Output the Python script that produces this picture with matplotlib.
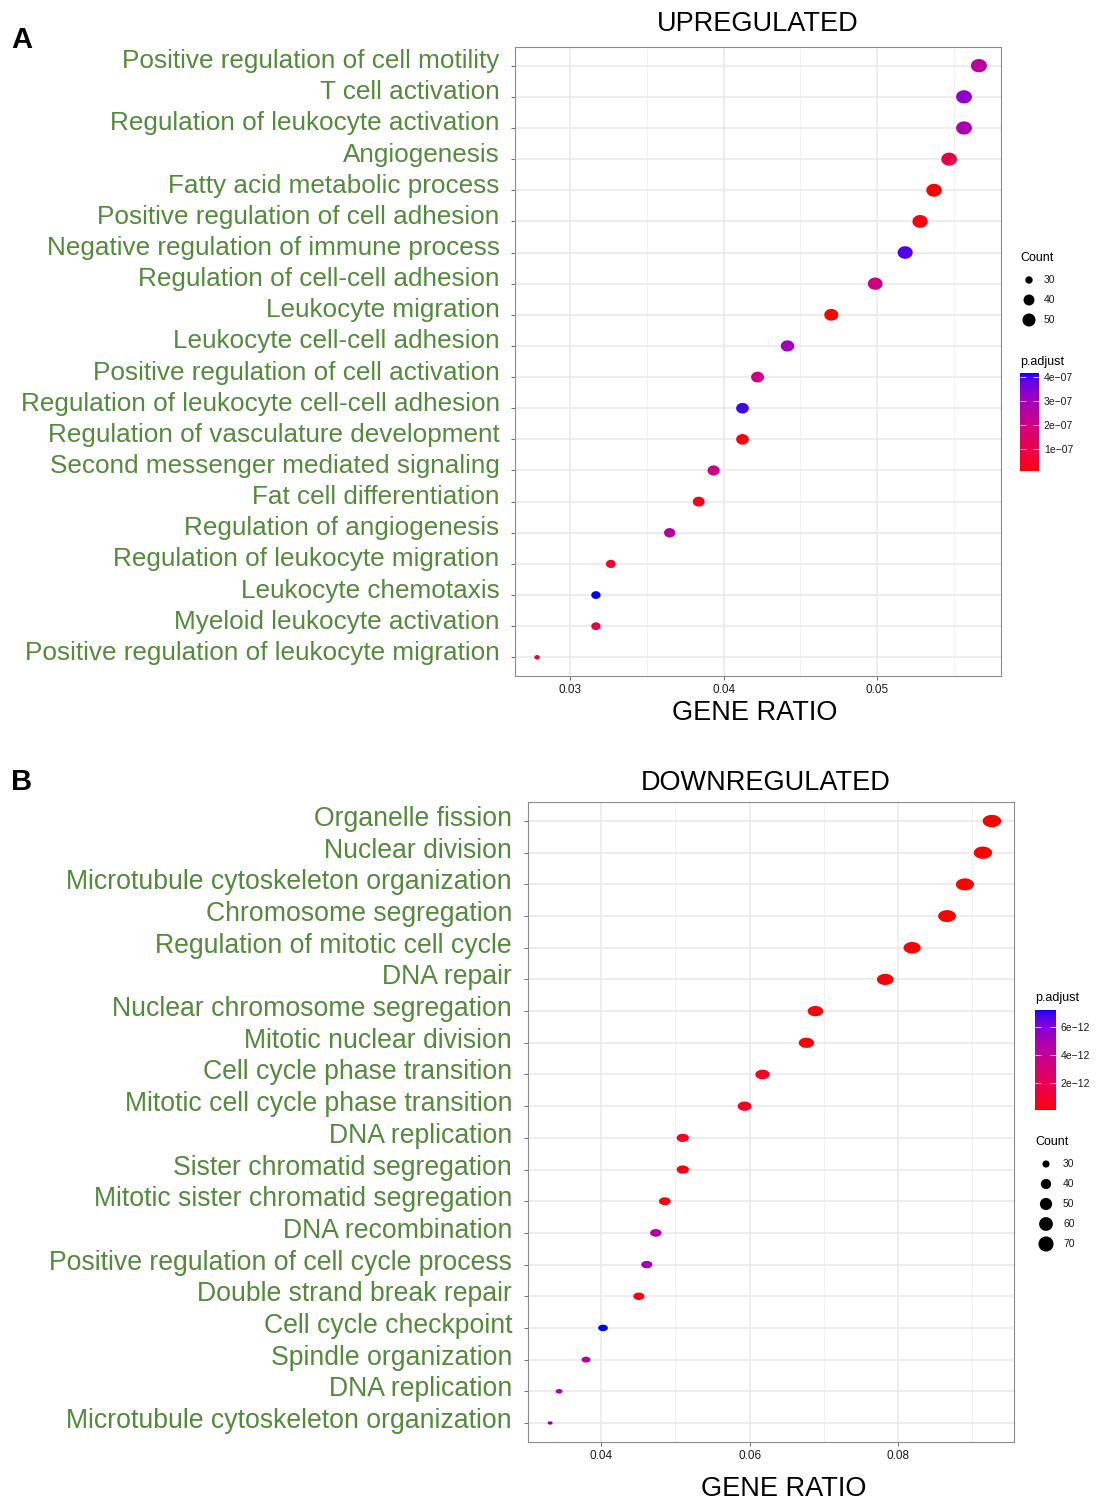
import numpy as np
import matplotlib
matplotlib.use("Agg")
import matplotlib.pyplot as plt
from matplotlib.path import Path
from matplotlib.colors import ListedColormap, Normalize
from matplotlib.cm import ScalarMappable
from matplotlib.transforms import ScaledTranslation
from matplotlib.ticker import MultipleLocator, FormatStrFormatter, AutoMinorLocator

plt.rcParams['font.family'] = ['Liberation Sans', 'DejaVu Sans']

# ---------------- data ----------------
up_terms = ["Positive regulation of cell motility", "T cell activation",
            "Regulation of leukocyte activation", "Angiogenesis",
            "Fatty acid metabolic process", "Positive regulation of cell adhesion",
            "Negative regulation of immune process", "Regulation of cell-cell adhesion",
            "Leukocyte migration", "Leukocyte cell-cell adhesion",
            "Positive regulation of cell activation",
            "Regulation of leukocyte cell-cell adhesion",
            "Regulation of vasculature development",
            "Second messenger mediated signaling", "Fat cell differentiation",
            "Regulation of angiogenesis", "Regulation of leukocyte migration",
            "Leukocyte chemotaxis", "Myeloid leukocyte activation",
            "Positive regulation of leukocyte migration"]
up_ratio = [0.05662, 0.05565, 0.05565, 0.05468, 0.05370, 0.05279, 0.05182, 0.04987,
            0.04701, 0.04416, 0.04221, 0.04123, 0.04123, 0.03935, 0.03838, 0.03649,
            0.03266, 0.03169, 0.03169, 0.02786]
up_count = [58, 57, 57, 56, 55, 54, 53, 51, 48, 45, 43, 42, 42, 40, 39, 37, 33, 32, 32, 28]
up_padj = [2.5e-7, 3.3e-7, 2.8e-7, 1.0e-7, 0.1e-7, 0.2e-7, 3.9e-7, 2.0e-7, 0.1e-7, 3.0e-7,
           2.0e-7, 4.0e-7, 0.2e-7, 2.0e-7, 0.3e-7, 2.6e-7, 0.5e-7, 4.15e-7, 0.9e-7, 0.6e-7]
up_padj_ticks = [1e-7, 2e-7, 3e-7, 4e-7]
up_padj_ticklabels = ["1e\u221207", "2e\u221207", "3e\u221207", "4e\u221207"]
up_count_legend = [30, 40, 50]

down_terms = ["Organelle fission", "Nuclear division",
              "Microtubule cytoskeleton organization", "Chromosome segregation",
              "Regulation of mitotic cell cycle", "DNA repair",
              "Nuclear chromosome segregation", "Mitotic nuclear division",
              "Cell cycle phase transition", "Mitotic cell cycle phase transition",
              "DNA replication", "Sister chromatid segregation",
              "Mitotic sister chromatid segregation", "DNA recombination",
              "Positive regulation of cell cycle process", "Double strand break repair",
              "Cell cycle checkpoint", "Spindle organization", "DNA replication",
              "Microtubule cytoskeleton organization"]
down_ratio = [0.09262, 0.09141, 0.08899, 0.08658, 0.08188, 0.07826, 0.06886, 0.06765,
              0.06174, 0.05933, 0.05101, 0.05101, 0.04859, 0.04738, 0.04617, 0.04510,
              0.04027, 0.03799, 0.03436, 0.03315]
down_count = [75, 74, 72, 70, 66, 63, 56, 55, 50, 48, 41, 41, 39, 38, 37, 37, 33, 31, 28, 27]
down_padj = [1e-14, 2e-14, 1e-14, 3e-14, 5e-14, 4e-14, 1.5e-13, 1e-13, 6e-13, 7e-13,
             5e-13, 2e-13, 2.5e-13, 4.6e-12, 5.2e-12, 3e-13, 7.26e-12, 4.6e-12, 4.3e-12, 6.1e-12]
down_padj_ticks = [2e-12, 4e-12, 6e-12]
down_padj_ticklabels = ["2e\u221212", "4e\u221212", "6e\u221212"]
down_count_legend = [30, 40, 50, 60, 70]

# ---------------- style helpers ----------------
W, H = 1098, 1501
GREEN = "#538B3B"
fig = plt.figure(figsize=(W / 100, H / 100), dpi=100)


def fax(x0, y0, x1, y1):
    return fig.add_axes([x0 / W, 1 - y1 / H, (x1 - x0) / W, (y1 - y0) / H])


def srgb_to_lab(rgb):
    rgb = np.asarray(rgb, float)
    lin = np.where(rgb <= 0.04045, rgb / 12.92, ((rgb + 0.055) / 1.055) ** 2.4)
    M = np.array([[0.4124, 0.3576, 0.1805], [0.2126, 0.7152, 0.0722], [0.0193, 0.1192, 0.9505]])
    xyz = M @ lin / np.array([0.95047, 1.0, 1.08883])
    f = np.where(xyz > 0.008856, np.cbrt(xyz), 7.787 * xyz + 16 / 116)
    return np.array([116 * f[1] - 16, 500 * (f[0] - f[1]), 200 * (f[1] - f[2])])


def lab_to_srgb(lab):
    L, a, b = lab
    fy = (L + 16) / 116
    fx = fy + a / 500
    fz = fy - b / 200
    f = np.array([fx, fy, fz])
    xyz = np.where(f ** 3 > 0.008856, f ** 3, (f - 16 / 116) / 7.787) * np.array([0.95047, 1.0, 1.08883])
    Minv = np.linalg.inv(np.array([[0.4124, 0.3576, 0.1805], [0.2126, 0.7152, 0.0722], [0.0193, 0.1192, 0.9505]]))
    lin = np.clip(Minv @ xyz, 0, 1)
    return np.clip(np.where(lin <= 0.0031308, 12.92 * lin, 1.055 * lin ** (1 / 2.4) - 0.055), 0, 1)


lab_r, lab_b = srgb_to_lab([1, 0, 0]), srgb_to_lab([0, 0, 1])
CMAP = ListedColormap([lab_to_srgb(lab_r + t * (lab_b - lab_r)) for t in np.linspace(0, 1, 256)])


def ellipse_marker(aspect):
    t = np.linspace(0, 2 * np.pi, 73)
    return Path(np.column_stack([np.cos(t), np.sin(t) / aspect]), closed=True)


def width_px(count, cmin, cmax, wmin, wmax):
    c = np.asarray(count, float)
    return wmin + (wmax - wmin) * np.sqrt(np.clip((c - cmin) / (cmax - cmin), 0, 1))


def panel(box, terms, ratio, count, padj, aspect, wrange, legk, fs, dy, ypad, xmajor, title, title_xy,
          xlab_xy, cbar_box, cticks, ctlabels, ptitle_xy, leg_title_xy, leg_vals, dot_dx, lab_dx):
    ax = fax(*box)
    n = len(terms)
    y = np.arange(1, n + 1)
    cmin, cmax = min(count), max(count)
    s = (width_px(count, cmin, cmax, *wrange) / 1.389) ** 2
    norm = Normalize(min(padj), max(padj))
    ax.scatter(ratio, y, s=s, c=padj, cmap=CMAP, norm=norm, marker=ellipse_marker(aspect),
               linewidths=0, zorder=3)
    xr = max(ratio) - min(ratio)
    ax.set_xlim(min(ratio) - 0.05 * xr, max(ratio) + 0.05 * xr)
    ax.set_ylim(n + 0.6, 0.4)
    ax.set_yticks(y)
    ax.set_yticklabels(terms, fontsize=fs, color=GREEN)
    ax.xaxis.set_major_locator(MultipleLocator(xmajor))
    ax.xaxis.set_major_formatter(FormatStrFormatter('%.2f'))
    ax.xaxis.set_minor_locator(AutoMinorLocator(2))
    ax.set_axisbelow(True)
    ax.grid(which='major', color='#E8E8E8', lw=1.1)
    ax.grid(which='minor', axis='x', color='#F2F2F2', lw=0.7)
    ax.tick_params(which='minor', length=0)
    ax.tick_params(axis='y', length=3, width=0.6, color='#555555', pad=ypad)
    ax.tick_params(axis='x', length=3, width=0.6, color='#555555', labelsize=8.5,
                   labelcolor='#1a1a1a', pad=2.5)
    for sp in ax.spines.values():
        sp.set_color('#8c8c8c')
        sp.set_linewidth(0.8)
    off = ScaledTranslation(0, dy / 100, fig.dpi_scale_trans)
    for lab in ax.get_yticklabels():
        lab.set_transform(lab.get_transform() + off)
    fig.text(title_xy[0] / W, 1 - title_xy[1] / H, title, ha='center', va='center', fontsize=19.5)
    fig.text(xlab_xy[0] / W, 1 - xlab_xy[1] / H, "GENE RATIO", ha='center', va='center', fontsize=19.5)

    # colour bar
    cax = fax(*cbar_box)
    cb = fig.colorbar(ScalarMappable(norm=norm, cmap=CMAP), cax=cax)
    cb.outline.set_visible(False)
    cb.set_ticks(cticks)
    cb.set_ticklabels(ctlabels)
    cax.tick_params(which='major', direction='in', color='white', length=4, width=0.6,
                    labelsize=7.5, pad=3.5, left=True, right=True, labelcolor='#1a1a1a')
    cax.minorticks_off()
    fig.text(ptitle_xy[0] / W, 1 - ptitle_xy[1] / H, "p.adjust", ha='left', va='center', fontsize=9)

    # size legend
    x0, yt = leg_title_xy
    fig.text(x0 / W, 1 - yt / H, "Count", ha='left', va='center', fontsize=9)
    m = len(leg_vals)
    lax = fax(x0, yt + 12, x0 + 65, yt + 12 + 20 * m)
    lax.axis('off')
    lax.set_xlim(0, 65)
    lax.set_ylim(m - 0.5, -0.5)
    idx = np.arange(m)
    ls = (legk * width_px(leg_vals, cmin, cmax, *wrange) / 1.389) ** 2
    lax.scatter(np.full(m, dot_dx), idx, s=ls, color='black', marker='o', linewidths=0)
    for i, v in zip(idx, leg_vals):
        lax.text(lab_dx, i, str(v), va='center', ha='left', fontsize=7.5, color='#1a1a1a')
    return ax


panel((515, 47, 1001, 676), up_terms, up_ratio, up_count, up_padj, 1.2, (5.5, 16.0), 0.9,
      18.8, 7, 8.0, 0.01,
      "UPREGULATED", (758, 24), (755, 713), (1020, 373, 1039, 471), up_padj_ticks,
      up_padj_ticklabels, (1020, 362), (1020, 258), up_count_legend, 9, 24)

panel((528, 802, 1014, 1442), down_terms, down_ratio, down_count, down_padj, 1.5, (5.0, 18.5), 0.85,
      19.2, 5, 8.5, 0.02, "DOWNREGULATED", (766, 783), (784, 1489), (1035, 1010, 1056, 1110),
      down_padj_ticks, down_padj_ticklabels, (1035, 998), (1035, 1142), down_count_legend, 11, 28)

fig.text(11 / W, 1 - 40 / H, "A", fontweight='bold', fontsize=21, va='center', ha='left')
fig.text(11 / W, 1 - 782 / H, "B", fontweight='bold', fontsize=21, va='center', ha='left')

fig.savefig("out.png", dpi=100)
